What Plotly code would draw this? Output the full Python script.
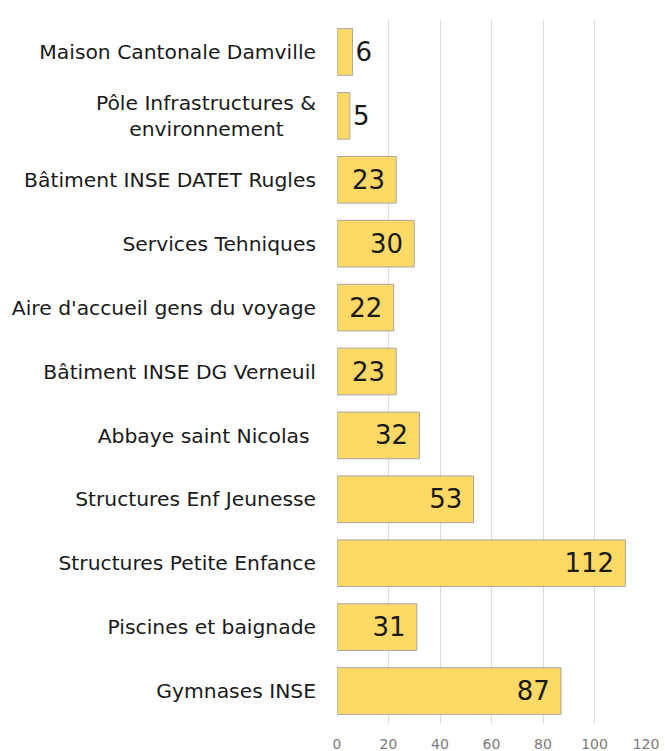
import plotly.graph_objects as go

categories = [
    "Maison Cantonale Damville",
    "Pôle Infrastructures &<br>environnement\u00a0\u00a0\u00a0\u00a0\u00a0",
    "Bâtiment INSE DATET Rugles",
    "Services Tehniques",
    "Aire d'accueil gens du voyage",
    "Bâtiment INSE DG Verneuil",
    "Abbaye saint Nicolas\u00a0",
    "Structures Enf Jeunesse",
    "Structures Petite Enfance",
    "Piscines et baignade",
    "Gymnases INSE",
]
values = [6, 5, 23, 30, 22, 23, 32, 53, 112, 31, 87]
x_ticks = [0, 20, 40, 60, 80, 100, 120]

fig = go.Figure(
    go.Bar(
        x=values,
        y=categories,
        orientation="h",
        marker=dict(color="#FFD966", line=dict(color="#A6A6A6", width=1)),
        text=[str(v) + "\u00a0" for v in values],
        textposition="auto",
        insidetextanchor="end",
        constraintext="none",
        textfont=dict(family="DejaVu Sans", size=26, color="#1a1a1a"),
        cliponaxis=False,
    )
)

fig.update_layout(
    width=665,
    height=751,
    margin=dict(l=337, r=19, t=20, b=28),
    paper_bgcolor="white",
    plot_bgcolor="white",
    bargap=0.27,
    showlegend=False,
    font=dict(family="DejaVu Sans", color="#1f1f1f"),
)
fig.update_xaxes(
    range=[0, 120],
    tickvals=x_ticks,
    showgrid=True,
    gridcolor="#DADADA",
    gridwidth=1,
    zeroline=False,
    showline=False,
    automargin=False,
    ticklabelstandoff=11,
    tickfont=dict(family="DejaVu Sans", size=14, color="#7a7a7a"),
    ticks="",
)
fig.update_yaxes(
    autorange="reversed",
    showgrid=False,
    ticks="",
    automargin=False,
    ticklabelstandoff=20,
    tickfont=dict(family="DejaVu Sans", size=20.3, color="#1a1a1a"),
)

fig.write_html(
    "out.html",
    config={"displayModeBar": False},
    post_script="document.body.style.margin='0';document.body.style.overflow='hidden';",
)
